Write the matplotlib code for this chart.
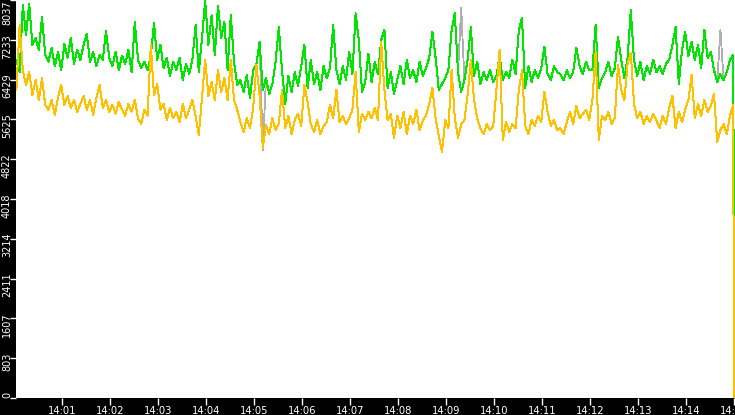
import matplotlib
matplotlib.use("Agg")
import matplotlib.pyplot as plt
import matplotlib.dates as mdates
import matplotlib.transforms as mtransforms
import numpy as np
import pandas as pd

# samples every 4 s from 14:00:03, last sample at 14:15:00 (drop to 0)
start = pd.Timestamp("2024-01-01 14:00:03")
step_s = 4

green = [
    6830, 6580, 7940, 7330, 7960, 7130, 7270, 7030, 7690, 6930,
    6790, 7070, 6700, 6990, 6620, 7150, 6870, 7270, 6750, 7030,
    6830, 7130, 7350, 6790, 6990, 6700, 6930, 6830, 7410, 6870,
    6700, 6990, 6620, 6910, 6750, 7030, 6580, 7590, 6830, 6660,
    6790, 6620, 6910, 7570, 6830, 7130, 6660, 6870, 6500, 6790,
    6620, 6870, 6420, 6750, 6540, 6830, 7530, 6580, 7270, 8020,
    7130, 7730, 6930, 7920, 7270, 7590, 6620, 7730, 6790, 6320,
    6420, 6180, 6520, 6060, 6620, 6750, 7190, 6220, 6460, 6140,
    6340, 6790, 7490, 6620, 5940, 6500, 6180, 6580, 6300, 6700,
    7130, 6260, 6830, 6340, 6580, 6220, 6700, 6460, 6660, 7530,
    6620, 6340, 6700, 6420, 6990, 6540, 7770, 7230, 6180, 6380,
    6950, 6380, 6790, 6540, 7230, 7430, 6260, 6580, 6140, 6420,
    6700, 6340, 6830, 6460, 6620, 6380, 6790, 6500, 6660, 6870,
    7390, 6870, 6220, 6340, 6460, 6620, 7430, 7770, 6580, 6180,
    6420, 6830, 7490, 6500, 6790, 6340, 6580, 6420, 6620, 6380,
    6500, 6910, 6420, 6580, 6460, 6830, 6540, 7430, 7670, 6260,
    6700, 6380, 6620, 6460, 6660, 7090, 6540, 6420, 6700, 6580,
    6540, 6420, 6620, 6460, 6580, 7070, 6700, 6540, 6790, 6620,
    6620, 7530, 6260, 6460, 6580, 6790, 6500, 6660, 7290, 6830,
    6460, 6870, 7830, 6830, 6500, 6790, 6420, 6700, 6540, 6830,
    6580, 6700, 6540, 6750, 6830, 7130, 7490, 6340, 7030, 7390,
    6910, 7190, 6830, 7130, 6660, 7430, 6870, 6990, 6620, 6380,
    6540, 6420, 6580, 6830, 6930,
    2950,
]

orange = [
    6220, 7530, 6620, 6320, 6580, 6120, 6420, 6020, 6460, 5920,
    5820, 6020, 5720, 6060, 6320, 5920, 6100, 5860, 6020, 5780,
    5940, 6100, 5820, 6020, 5720, 6060, 6320, 5860, 6020, 5780,
    5920, 5740, 5980, 5820, 5700, 5940, 5780, 6020, 5650, 5530,
    5820, 5700, 7130, 6120, 6340, 5820, 5940, 5610, 5860, 5650,
    5780, 5570, 5940, 5650, 5820, 6020, 5700, 5310, 6060, 6830,
    6100, 6380, 6020, 6620, 6180, 6460, 6020, 6830, 6020, 5820,
    5570, 5370, 5650, 5450, 5860, 6725, 6120, 5050, 5510, 5330,
    5650, 5410, 5530, 6220, 5450, 5700, 5330, 5610, 5740, 5490,
    6320, 5980, 5530, 5370, 5610, 5330, 5490, 5570, 5920, 5650,
    6220, 5570, 5700, 5530, 5650, 5820, 6580, 5370, 5740, 5610,
    5780, 5650, 5860, 5610, 7190, 6220, 5610, 5740, 5250, 5700,
    5450, 5780, 5330, 5700, 5530, 5820, 5410, 5610, 5700, 5940,
    6260, 5650, 5290, 4970, 5610, 5450, 6620, 5650, 5250, 5530,
    5610, 6120, 6830, 6020, 5650, 5450, 5330, 5530, 5410, 5490,
    6220, 7030, 5210, 5570, 5370, 5530, 5450, 6220, 6620, 5490,
    5330, 5610, 5490, 5700, 5570, 6180, 5780, 5490, 5610, 5410,
    5450, 5330, 5570, 5780, 5530, 5900, 5650, 5740, 5820, 5610,
    6020, 6990, 5210, 5700, 5610, 5780, 5530, 5650, 6725, 6220,
    6020, 6750, 6970, 5940, 5650, 5780, 5530, 5700, 5570, 5740,
    5610, 5450, 5700, 5530, 5860, 6100, 5450, 5780, 5570, 5820,
    6020, 6520, 5650, 5940, 5700, 6020, 5780, 5900, 6140, 5170,
    5410, 5530, 5330, 5700, 5920,
    0,
]

# thin grey series mostly hidden under the green one; visible where it strays
gray = list(green)
gray_spikes = {77: 5010, 139: 7880, 220: 7430}
for k, v in gray_spikes.items():
    gray[k] = v

n = len(green)
times = [start + pd.Timedelta(seconds=step_s * i) for i in range(n - 1)]
times.append(pd.Timestamp("2024-01-01 14:15:00"))

y_max = 8037
yticks = np.linspace(0, y_max, 11)
ylabels = [str(int(v)) for v in yticks]

fig = plt.figure(figsize=(7.35, 4.15), dpi=100, facecolor="black")
ax = fig.add_axes([16 / 735, 17 / 415, 719 / 735, 398 / 415], facecolor="white")

ax.plot(times, gray, color="#b0b0b0", lw=0.6, antialiased=False)
ax.plot(times, green, color="#00e600", lw=0.72, antialiased=False)
ax.plot(times, orange, color="#ffc000", lw=0.72, antialiased=False)

ax.set_xlim(pd.Timestamp("2024-01-01 14:00:02.5"), pd.Timestamp("2024-01-01 14:15:01.25"))
ax.set_ylim(0, y_max)

for s in ax.spines.values():
    s.set_visible(False)

ax.xaxis.set_major_locator(mdates.MinuteLocator())
ax.xaxis.set_major_formatter(mdates.DateFormatter("%H:%M"))
ax.tick_params(axis="x", colors="white", direction="out", length=5, width=1,
               pad=0.5, labelsize=7.2)
ax.set_yticks(yticks)
ax.set_yticklabels([])
ax.tick_params(axis="y", colors="white", direction="out", length=4, width=1)

# rotated y labels sit just below each tick, clamped at the ends
trans = mtransforms.blended_transform_factory(fig.transFigure, ax.transData)
for v, lab in zip(yticks, ylabels):
    if v == 0:
        va, dy = "bottom", 0
    elif v == y_max:
        va, dy = "top", 0
    else:
        va, dy = "top", 6
    t = mtransforms.offset_copy(trans, fig=fig, x=0, y=dy, units="dots")
    ax.text(7 / 735, v, lab, transform=t, rotation=90, color="white",
            fontsize=7, ha="center", va=va, clip_on=False)

fig.savefig("out.png", dpi=100, facecolor="black")
